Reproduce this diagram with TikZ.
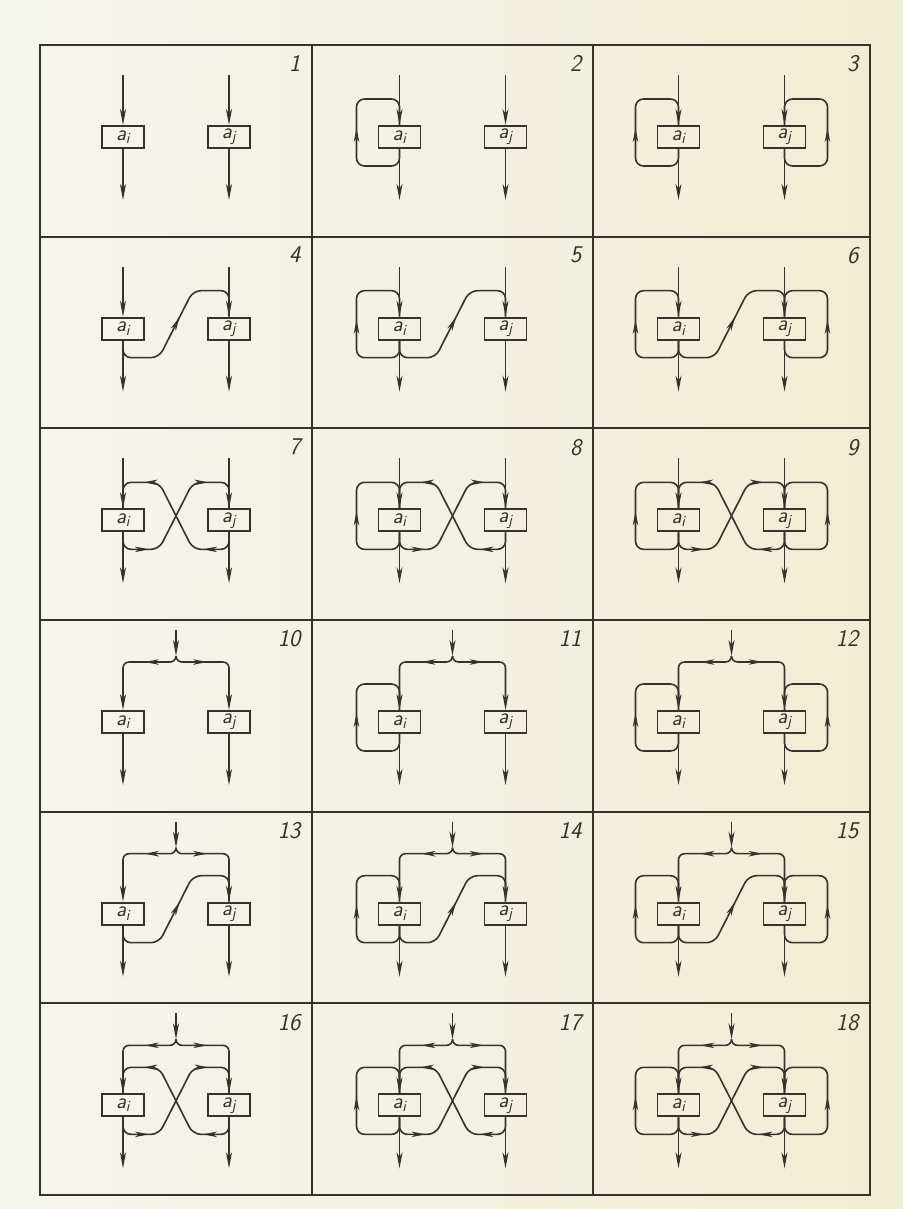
\documentclass[tikz,border=0pt]{standalone}
\usetikzlibrary{arrows.meta,calc,decorations.markings}
\definecolor{ink}{HTML}{37322C}
\definecolor{paperw}{HTML}{F5F5F0}
\definecolor{papery}{HTML}{F1EDD3}

\tikzset{
  flow/.style={draw=ink, line width=1.6pt},
  tip/.style={flow, -{Stealth[length=16pt,width=6pt,inset=4.5pt]}},
  midtip/.style={postaction={decorate, decoration={markings,
      mark=at position #1 with {\arrow{Stealth[length=14pt,width=5.5pt,inset=4pt]}}}}},
  cellbox/.style={draw=ink, line width=1.9pt, minimum width=42pt, minimum height=22pt,
      inner sep=0pt, text=ink, font=\fontsize{22}{22}\selectfont\sffamily\itshape},
  cellnum/.style={anchor=north east, text=ink, font=\fontsize{24}{26}\selectfont\sffamily\itshape},
  frame/.style={draw=ink, line width=1.7pt},
}

\begin{document}
\begin{tikzpicture}[x=1pt,y=-1pt]
  \shade[left color=paperw, right color=papery] (0,0) rectangle (903,1209);
  \useasboundingbox (0,0) rectangle (903,1209);
  % table
  \draw[frame] (40,45) rectangle (870,1195);
  \foreach \gx in {312,593} \draw[frame] (\gx,45) -- (\gx,1195);
  \foreach \gy in {236.7,428.3,620,811.7,1003.3} \draw[frame] (40,\gy) -- (870,\gy);
  % the 18 schemes
  \foreach \r in {0,...,5}{
    \foreach \c in {0,1,2}{
      \pgfmathtruncatemacro\cellno{3*\r+\c+1}
      \pgfmathtruncatemacro\kind{mod(\r,3)}
      \pgfmathsetmacro\cx{{176,452.5,731.5}[\c]}
      \pgfmathsetmacro\xr{{312,593,870}[\c]}
      \pgfmathsetmacro\ytop{45+191.67*\r}
      \pgfmathsetmacro\yb{\ytop+(\r<3?92:102)}
      \node[cellbox] (ai-\cellno) at (\cx-53,\yb) {a\textsubscript{i}};
      \node[cellbox] (aj-\cellno) at (\cx+53,\yb) {a\textsubscript{j}};
      \node[cellnum] (no-\cellno) at (\xr-8,\ytop+7) {\cellno};
      % outputs
      \coordinate (oi-\cellno) at ($(ai-\cellno)+(0,63)$);
      \coordinate (oj-\cellno) at ($(aj-\cellno)+(0,63)$);
      \draw[tip] (ai-\cellno.south) -- (oi-\cellno);
      \draw[tip] (aj-\cellno.south) -- (oj-\cellno);
      % inputs: separate or common fork
      \ifnum\r<3
        \coordinate (ii-\cellno) at ($(ai-\cellno)+(0,-62)$);
        \coordinate (ij-\cellno) at ($(aj-\cellno)+(0,-62)$);
        \draw[tip] (ii-\cellno) -- (ai-\cellno.north);
        \draw[tip] (ij-\cellno) -- (aj-\cellno.north);
      \else
        \coordinate (in-\cellno) at (\cx,\yb-92);
        \coordinate (fk-\cellno) at (\cx,\yb-66);
        \draw[tip] (in-\cellno) -- (fk-\cellno);
        \draw[tip, rounded corners=6, midtip=.34] (fk-\cellno) |- ($(ai-\cellno)+(0,-60)$) -- (ai-\cellno.north);
        \draw[tip, rounded corners=6, midtip=.34] (fk-\cellno) |- ($(aj-\cellno)+(0,-60)$) -- (aj-\cellno.north);
      \fi
      % self loops
      \ifnum\c>0
        \draw[flow, rounded corners=8, midtip=.5] (ai-\cellno.south) |- ($(ai-\cellno)+(-43,29)$)
          |- ($(ai-\cellno)+(0,-38)$) -- (ai-\cellno.north);
      \fi
      \ifnum\c>1
        \draw[flow, rounded corners=8, midtip=.5] (aj-\cellno.south) |- ($(aj-\cellno)+(43,29)$)
          |- ($(aj-\cellno)+(0,-38)$) -- (aj-\cellno.north);
      \fi
      % links between a_i and a_j
      \ifnum\kind=1
        \draw[flow, rounded corners=8, midtip=.52] (ai-\cellno.south) |- ($(ai-\cellno)+(36,29)$)
          -- ($(ai-\cellno)+(70,-38)$) -| (aj-\cellno.north);
      \fi
      \ifnum\kind=2
        \draw[flow, rounded corners=8, midtip=.22, midtip=.76] (ai-\cellno.south) |- ($(ai-\cellno)+(36,29)$)
          -- ($(ai-\cellno)+(70,-38)$) -| (aj-\cellno.north);
        \draw[flow, rounded corners=8, midtip=.22, midtip=.76] (aj-\cellno.south) |- ($(aj-\cellno)+(-36,29)$)
          -- ($(aj-\cellno)+(-70,-38)$) -| (ai-\cellno.north);
      \fi
    }
  }
\end{tikzpicture}
\end{document}
